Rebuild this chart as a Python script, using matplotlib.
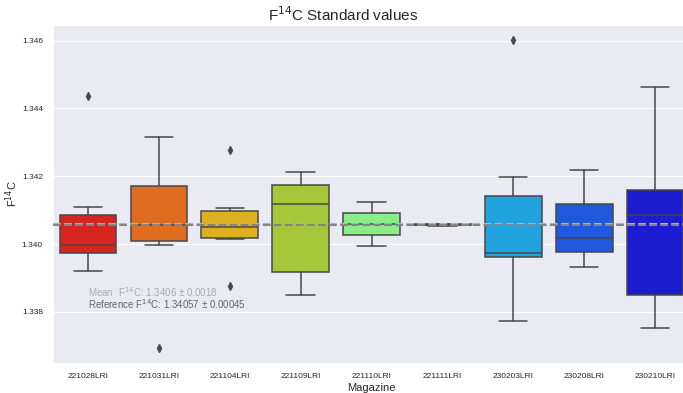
import matplotlib
matplotlib.use('Agg')
import matplotlib.pyplot as plt
import seaborn as sns

sns.set_style('darkgrid')
plt.rcParams['font.family'] = ['Liberation Sans', 'DejaVu Sans']

magazines = ['221028LRI', '221031LRI', '221104LRI', '221109LRI', '221110LRI',
             '221111LRI', '230203LRI', '230208LRI', '230210LRI']

# box statistics per magazine
q1 = [1.33973, 1.34009, 1.34017, 1.33918, 1.34026, 1.34055, 1.33961, 1.33976, 1.33850]
med = [1.33996, 1.34056, 1.34050, 1.34117, 1.34059, 1.34056, 1.33973, 1.34019, 1.34087]
q3 = [1.34085, 1.34172, 1.34097, 1.34175, 1.34091, 1.34058, 1.34141, 1.34119, 1.34161]
whislo = [1.33921, 1.33998, 1.34015, 1.33849, 1.33995, 1.34053, 1.33774, 1.33934, 1.33752]
whishi = [1.34109, 1.34317, 1.34106, 1.34213, 1.34124, 1.34058, 1.34197, 1.34220, 1.34462]
fliers = [[1.34438], [1.33694], [1.34277, 1.33878], [], [], [], [1.34601], [], []]

colors = ['#d6241f', '#e06c20', '#deb01d', '#a7c73b', '#88ee88',
          '#28c8b4', '#1fa2de', '#1f59de', '#1c1cd0']

mean_val, mean_err = 1.3406, 0.0018
ref_val, ref_err = 1.34057, 0.00045

fig = plt.figure(figsize=(6.83, 3.93), dpi=100)
ax = fig.add_axes([0.077, 0.0756, 0.934, 0.861])

stats = []
for i in range(len(magazines)):
    stats.append(dict(q1=q1[i], med=med[i], q3=q3[i], whislo=whislo[i],
                      whishi=whishi[i], fliers=fliers[i]))

edge = '#484848'
lw = 1.1
bp = ax.bxp(stats, positions=range(len(magazines)), widths=0.8,
            patch_artist=True, manage_ticks=False,
            boxprops=dict(edgecolor=edge, linewidth=lw),
            medianprops=dict(color=edge, linewidth=lw),
            whiskerprops=dict(color=edge, linewidth=lw),
            capprops=dict(color=edge, linewidth=lw),
            flierprops=dict(marker='d', markerfacecolor=edge, markeredgecolor=edge,
                            markersize=4))
for patch, c in zip(bp['boxes'], colors):
    patch.set_facecolor(c)

ax.axhline(mean_val, color='#b5b5b5', ls='--', lw=1.5, zorder=5)
ax.axhline(ref_val, color='#858585', ls='--', lw=1.5, zorder=5)

ax.text(0, 1.33859, 'Mean \u02d9F$^{14}$C: %.4f ± %.4f' % (mean_val, mean_err),
        color='#aaaaaa', fontsize=7, va='center')
ax.text(0, 1.33822, 'Reference F$^{14}$C: %.5f ± %.5f' % (ref_val, ref_err),
        color='#666666', fontsize=7, va='center')

ax.set_xlim(-0.5, len(magazines) - 0.5)
ax.set_xticks(range(len(magazines)))
ax.set_xticklabels(magazines)
ax.xaxis.grid(False)
ax.tick_params(labelsize=6)
ax.set_xlabel('Magazine', fontsize=8, labelpad=2)
ax.set_ylabel('F$^{14}$C', fontsize=8, labelpad=1)
fig.text(0.502, 0.962, 'F$^{14}$C Standard values', fontsize=11, ha='center', va='center')

fig.savefig('out.png', dpi=100)
